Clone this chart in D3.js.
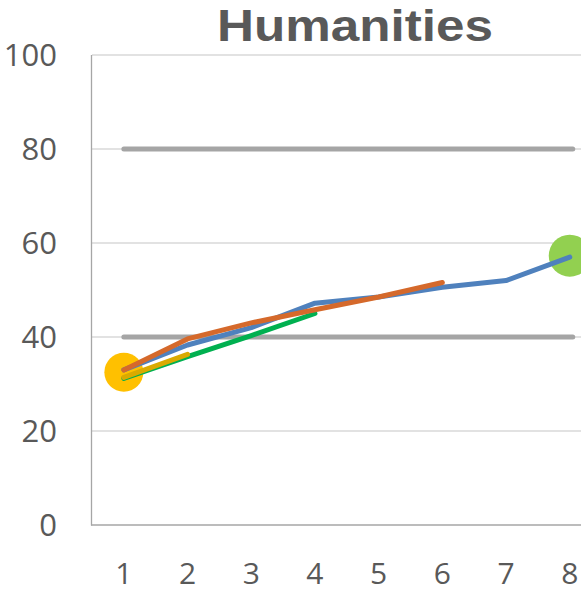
<!DOCTYPE html>
<html><head><meta charset="utf-8">
<script src="https://cdn.jsdelivr.net/npm/d3@7"></script>
<style>html,body{margin:0;padding:0;background:#fff;overflow:hidden}</style>
</head><body>
<svg id="c" width="581" height="593"></svg>
<script>
const categories = [1,2,3,4,5,6,7,8];
const yTicks = [0,20,40,60,80,100];
const title = "Humanities";
const blueValues   = [33, 38.3, 42, 47.2, 48.5, 50.6, 52, 57];
const orangeValues = [33, 39.6, 43, 45.8, 48.5, 51.6];
const greenValues  = [31.2, 35.8, 40.3, 45];
const yellowValues = [31.4, 36.3];
const refLines = [40, 80];
const startMarker = {cat: 1, value: 32.5};
const endMarker = {cat: 8, value: 57.3};

const svg = d3.select("#c");
const x = d3.scaleBand().domain(categories).range([92, 601.6]);
const cx = c => x(c) + x.bandwidth()/2;
const y = d3.scaleLinear().domain([0,100]).range([525,55]);
const font = "'Open Sans', sans-serif";
const txt = "#595959";

// gridlines
svg.append("g").selectAll("line").data(yTicks.filter(d=>d>0)).join("line")
  .attr("x1",92).attr("x2",602).attr("y1",d=>y(d)).attr("y2",d=>y(d))
  .attr("stroke","#D9D9D9").attr("stroke-width",1.3);
// axes lines
svg.append("line").attr("x1",91.5).attr("x2",91.5).attr("y1",55).attr("y2",525.5)
  .attr("stroke","#A6A6A6").attr("stroke-width",1.3);
svg.append("line").attr("x1",91).attr("x2",602).attr("y1",525).attr("y2",525)
  .attr("stroke","#A6A6A6").attr("stroke-width",1.3);

// y tick labels
svg.append("g").selectAll("text").data(yTicks).join("text")
  .attr("x",57).attr("y",d=>y(d)+10.5).attr("text-anchor","end")
  .attr("font-family",font).attr("font-size",31).attr("fill",txt).text(d=>d);
// x tick labels
svg.append("g").selectAll("text").data(categories).join("text")
  .attr("x",d=>cx(d)).attr("y",584).attr("text-anchor","middle")
  .attr("font-family",font).attr("font-size",30).attr("fill",txt).text(d=>d);

// title
svg.append("text").attr("x",355).attr("y",41).attr("text-anchor","middle")
  .attr("font-family","'Liberation Sans', Arial, sans-serif").attr("font-weight","bold").attr("font-size",45)
  .attr("textLength",276).attr("lengthAdjust","spacingAndGlyphs")
  .attr("fill",txt).text(title);

// reference lines
svg.append("g").selectAll("line").data(refLines).join("line")
  .attr("x1",cx(1)).attr("x2",cx(8)+3).attr("y1",d=>y(d)).attr("y2",d=>y(d))
  .attr("stroke","#A5A5A5").attr("stroke-width",5).attr("stroke-linecap","round");

// markers
svg.append("circle").attr("cx",cx(startMarker.cat)).attr("cy",y(startMarker.value)).attr("r",19.5).attr("fill","#FFC000");
svg.append("circle").attr("cx",cx(endMarker.cat)).attr("cy",y(endMarker.value)).attr("r",21).attr("fill","#92D050");

const line = d3.line().x((d,i)=>cx(categories[i])).y(d=>y(d));
const series = [
  {v: greenValues, c:"#00B050"},
  {v: yellowValues, c:"#DAAA00"},
  {v: blueValues, c:"#4F81BD"},
  {v: orangeValues, c:"#D5692B"}
];
svg.append("g").selectAll("path").data(series).join("path")
  .attr("d",d=>line(d.v)).attr("fill","none").attr("stroke",d=>d.c)
  .attr("stroke-width",5).attr("stroke-linecap","round").attr("stroke-linejoin","round");
</script>
</body></html>
